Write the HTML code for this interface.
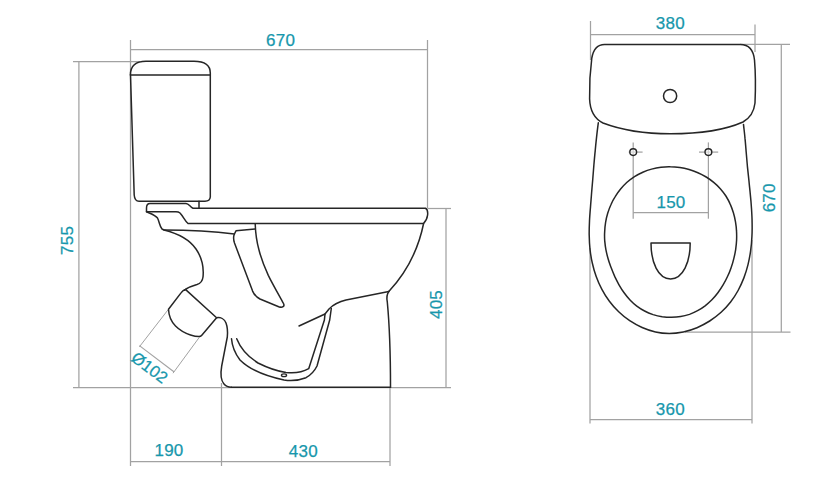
<!DOCTYPE html>
<html><head><meta charset="utf-8">
<style>
html,body{margin:0;padding:0;background:#fff;}
body{width:837px;height:500px;overflow:hidden;}
svg{display:block;}
.d{fill:none;stroke:#a2a2a2;stroke-width:1.25;}
.k{fill:none;stroke:#262626;stroke-width:1.5;stroke-linejoin:round;stroke-linecap:round;}
.t{font-family:"Liberation Sans",sans-serif;font-size:17px;letter-spacing:0.25px;fill:#1797ac;stroke:#1797ac;stroke-width:0.25;}
</style></head>
<body>
<svg width="837" height="500" viewBox="0 0 837 500">
<!-- ===== LEFT: side view dimensions ===== -->
<g class="d">
  <path d="M130.5 40V466"/>
  <path d="M427.5 40V208"/>
  <path d="M130.5 49.5H427.5"/>
  <path d="M73 61.5H140"/>
  <path d="M78.9 61.5V387.5"/>
  <path d="M73 387.5H451"/>
  <path d="M427.5 208.5H451"/>
  <path d="M446 208.5V387.5"/>
  <path d="M221.5 383V466"/>
  <path d="M390 387V466"/>
  <path d="M130.5 461.5H390"/>
  <path d="M168.2 309.6L139.4 346.8" stroke-width="1"/>
  <path d="M199.4 337.2L173 373.2" stroke-width="1"/>
  <path d="M139.4 345.6L174.2 372" stroke-width="1.1"/>
</g>
<text class="t" x="280.6" y="45.8" text-anchor="middle">670</text>
<text class="t" x="169" y="455.6" text-anchor="middle">190</text>
<text class="t" x="303.4" y="456.7" text-anchor="middle">430</text>
<text class="t" transform="translate(73.2 240.4) rotate(-90)" text-anchor="middle">755</text>
<text class="t" transform="translate(442.4 304.5) rotate(-90)" text-anchor="middle">405</text>
<text class="t" style="font-size:16.5px;letter-spacing:0" transform="translate(146.2 372.2) rotate(37)" text-anchor="middle">Ø102</text>

<!-- ===== LEFT: side view drawing ===== -->
<g class="k">
  <!-- tank -->
  <path d="M130.4 75 C130.4 66 135 61.2 146 61.2 H194 C205 61.2 210.3 65 210.3 73 V197 C210 200 208 201.2 205 201.2 H139 C136 201.2 134.5 199 134.2 195 L130.5 75Z"/>
  <path d="M130.4 75H210.3"/>
  <path d="M199 201.2V208.2"/>
  <!-- seat/hinge -->
  <path d="M193 208.2H425.5 C427.3 209 427.9 212 427.6 215 C427.2 218.5 425.5 221.5 423.5 223.5 H188 C185 221 183 216 180 213 C179 212.2 178.5 211.8 176 211.8 H146.5 V208 C146.5 205 147.5 203.5 150 203.5 H186 C189 203.5 190 207 193 208.2Z"/>
  <!-- bowl outer left -->
  <path d="M146.5 211.8 C150 213.5 155 215 157.5 218 C159.5 222 159.5 226 162 229 L164 230 C178 233.5 189.5 239.5 196 249 C201.5 257 204 267 203 277 C202.5 281 200.5 283.5 197 284.5 C192 285.8 188 287.5 184.5 290.2"/>
  <!-- rim line -->
  <path d="M164 230 C185 230 215 231.5 234.4 234 L236 230.8 L255 229"/>
  <!-- flush channel -->
  <path d="M234.4 234 C233.3 236.5 233.5 240 234.5 243 L252.6 291.1 C254 294.5 256.5 297 260 299 L278.7 306.7 C282.5 308 285 306.5 283.5 303.5 C280 297 273 285 268.3 275.4 C264 266 261 258 259 250 C256.5 241 255.5 233 255.2 224"/>
  <!-- bowl right contour -->
  <path d="M423.6 223.5 C419 246 408 271 388.8 291.5"/>
  <path d="M388.8 291.5 L346 300.1 C338 302 333 305 329 309 L325 314 L299 326"/>
  <path d="M388.8 291.5 C387 294 386.5 298 387.3 302 C389 320 390.5 350 390.5 387.2"/>
  <!-- base -->
  <path d="M231.5 387.2 H390.5"/>
  <path d="M216.6 317.7 C220.5 317 224.5 319 226 323 C227.5 327 227.8 332 227.3 337 L221.7 366 C220.5 373 220.5 380 224 384 C226 386.5 229 387.2 231.5 387.2"/>
  <!-- pipe -->
  <path d="M185.4 289.4 L216.6 317.7 L201.8 335.2 C201 336.2 200.2 336.6 199 336.6 C196 336.6 193.5 336 190.5 335 C184.5 333 179.5 330 175.5 326 C171 321.5 168.8 316 168.5 309.3 L181.2 292.6 C182.3 291 183.6 289.8 185.4 289.4"/>
  <!-- inner U -->
  <path d="M231.5 338.7 C232 345 234 352 240 360 C250 370 265 376 284 380 C293 381.5 300 380 306 377.7 C311 375 314 372 317 366 L329.7 320 L331.3 308.5"/>
  <path d="M236.7 338.7 C240 347 247 356 258 363 C268 368 276 371 286 372.5 C295 373.5 303 372 308.7 368.7 L324.4 320 L325 314"/>
  <ellipse cx="284" cy="375.2" rx="2.6" ry="1.4" stroke-width="1.3"/>
</g>

<!-- ===== RIGHT: top view dimensions ===== -->
<g class="d">
  <path d="M590.5 21V60"/>
  <path d="M755 24.6V52"/>
  <path d="M590.5 34.5H755"/>
  <path d="M740 44.3H790"/>
  <path d="M781.3 44.3V332"/>
  <path d="M685 332H790.5"/>
  <path d="M590 248V423.4"/>
  <path d="M752 240V423.4"/>
  <path d="M590 419.5H752"/>
  <path d="M633.2 142.4V218.7"/>
  <path d="M708.4 142.4V218.7"/>
  <path d="M633.2 212.6H708.4"/>
  <path d="M628.7 152.1H642.6"/>
  <path d="M699 152.1H718.2"/>
</g>
<text class="t" x="670.3" y="28.9" text-anchor="middle">380</text>
<text class="t" x="671" y="208.2" text-anchor="middle">150</text>
<text class="t" x="670.4" y="414.9" text-anchor="middle">360</text>
<text class="t" transform="translate(775.3 197.8) rotate(-90)" text-anchor="middle">670</text>

<!-- ===== RIGHT: top view drawing ===== -->
<g class="k">
  <!-- tank -->
  <path d="M604.5 44.4 H740 C749 44.3 753.5 50 754.5 60 C755.5 72 755.5 92 755 103 C754 112 750 118 743 122 C725 130 700 133.8 670.5 133.8 C645 133.8 620 129.5 603 123 C594 118.5 590 110 589.6 99 C589.3 85 590.2 70 591.8 58 C593.5 48.5 597.5 44.4 604.5 44.4Z"/>
  <circle cx="670.1" cy="96" r="6.6"/>
  <!-- bowl outer -->
  <path d="M598.3 122.8 C598.0 125.1 597.1 132.1 596.6 136.8 C596.1 141.4 595.6 146.1 595.2 150.8 C594.7 155.4 594.3 160.1 593.9 164.8 C593.5 169.4 593.2 174.1 592.8 178.8 C592.4 183.4 592.0 188.1 591.6 192.8 C591.3 197.5 590.8 202.2 590.5 206.9 C590.1 211.6 589.7 216.3 589.5 221.0 C589.3 225.6 589.1 230.3 589.2 235.0 C589.3 239.7 589.5 244.4 590.0 249.1 C590.5 253.7 591.2 258.4 592.3 263.0 C593.3 267.6 594.6 272.1 596.2 276.5 C597.8 281.0 599.7 285.3 601.9 289.4 C604.1 293.6 606.6 297.6 609.4 301.3 C612.1 305.0 615.3 308.6 618.7 311.8 C622.1 315.1 625.8 318.1 629.7 320.7 C633.6 323.3 637.8 325.6 642.1 327.5 C646.4 329.4 650.9 330.9 655.5 331.9 C660.0 332.9 664.7 333.4 669.3 333.5 C674.0 333.5 678.7 332.9 683.3 332.0 C687.9 331.0 692.6 329.5 697.0 327.7 C701.4 325.8 705.7 323.5 709.7 321.0 C713.7 318.4 717.6 315.5 721.1 312.3 C724.6 309.1 727.7 305.7 730.6 302.0 C733.4 298.4 735.9 294.5 738.1 290.5 C740.3 286.5 742.2 282.2 743.9 277.9 C745.5 273.6 746.9 269.1 748.0 264.6 C749.1 260.1 750.0 255.4 750.6 250.8 C751.3 246.2 751.7 241.5 751.9 236.8 C752.2 232.1 752.2 227.4 752.1 222.7 C752.1 218.0 751.8 213.2 751.5 208.5 C751.2 203.8 750.8 199.1 750.3 194.4 C749.9 189.7 749.3 185.0 748.9 180.3 C748.4 175.6 747.9 170.9 747.4 166.3 C747.0 161.6 746.6 156.9 746.2 152.3 C745.8 147.6 745.5 143.0 745.0 138.4 C744.6 133.7 743.7 126.7 743.5 124.4"/>
  <!-- seat inner -->
  <path d="M670.4 166.8 C673.6 166.8 676.8 167.1 679.9 167.5 C683.0 168.0 686.1 168.7 689.1 169.5 C692.1 170.4 695.1 171.5 697.9 172.7 C700.7 173.9 703.5 175.4 706.2 177.0 C708.8 178.6 711.3 180.4 713.7 182.4 C716.0 184.3 718.3 186.4 720.3 188.7 C722.3 191.0 724.2 193.4 725.9 196.0 C727.5 198.6 729.0 201.3 730.2 204.1 C731.5 206.9 732.5 209.9 733.4 212.8 C734.3 215.8 735.0 218.8 735.5 221.8 C736.0 224.8 736.4 227.9 736.5 230.9 C736.7 233.9 736.7 237.0 736.6 240.1 C736.5 243.1 736.1 246.2 735.7 249.3 C735.2 252.4 734.6 255.5 733.8 258.6 C733.1 261.6 732.2 264.7 731.1 267.7 C730.1 270.7 728.9 273.7 727.5 276.5 C726.2 279.4 724.7 282.2 723.1 284.9 C721.5 287.6 719.7 290.3 717.9 292.7 C716.0 295.2 714.0 297.6 711.9 299.7 C709.7 301.9 707.5 303.9 705.1 305.8 C702.7 307.6 700.2 309.3 697.6 310.7 C695.0 312.1 692.3 313.4 689.5 314.4 C686.7 315.3 683.7 316.1 680.7 316.6 C677.7 317.1 674.6 317.3 671.5 317.3 C668.4 317.4 665.3 317.1 662.2 316.7 C659.2 316.2 656.1 315.5 653.1 314.6 C650.2 313.6 647.3 312.4 644.6 311.0 C641.8 309.7 639.2 308.0 636.8 306.2 C634.3 304.3 632.1 302.2 630.0 300.0 C627.9 297.8 625.9 295.3 624.1 292.8 C622.3 290.3 620.6 287.6 619.0 284.8 C617.5 282.1 616.1 279.2 614.7 276.4 C613.4 273.5 612.2 270.5 611.1 267.6 C610.0 264.6 608.9 261.7 608.1 258.7 C607.2 255.7 606.5 252.8 605.9 249.7 C605.3 246.7 605.0 243.6 604.7 240.6 C604.5 237.5 604.5 234.4 604.7 231.4 C604.8 228.3 605.1 225.3 605.6 222.3 C606.1 219.3 606.8 216.3 607.7 213.3 C608.6 210.4 609.6 207.5 610.9 204.7 C612.1 201.9 613.5 199.2 615.2 196.6 C616.8 194.0 618.6 191.4 620.6 189.0 C622.6 186.6 624.7 184.4 627.0 182.3 C629.4 180.2 631.9 178.3 634.5 176.6 C637.1 175.0 639.9 173.5 642.8 172.2 C645.6 171.0 648.6 169.9 651.6 169.1 C654.7 168.3 657.8 167.7 661.0 167.3 C664.1 166.9 667.3 166.7 670.4 166.8Z"/>
  <!-- cup -->
  <path d="M651 243.1 H690.2 C690.2 262 683 278.9 670.6 278.9 C658 278.9 651 262 651 243.1Z"/>
  <circle cx="633.2" cy="152.1" r="3.4" stroke-width="1.4" fill="rgba(255,255,255,0.55)"/>
  <circle cx="708.4" cy="152.1" r="3.4" stroke-width="1.4" fill="rgba(255,255,255,0.55)"/>
</g>
</svg>
</body></html>
